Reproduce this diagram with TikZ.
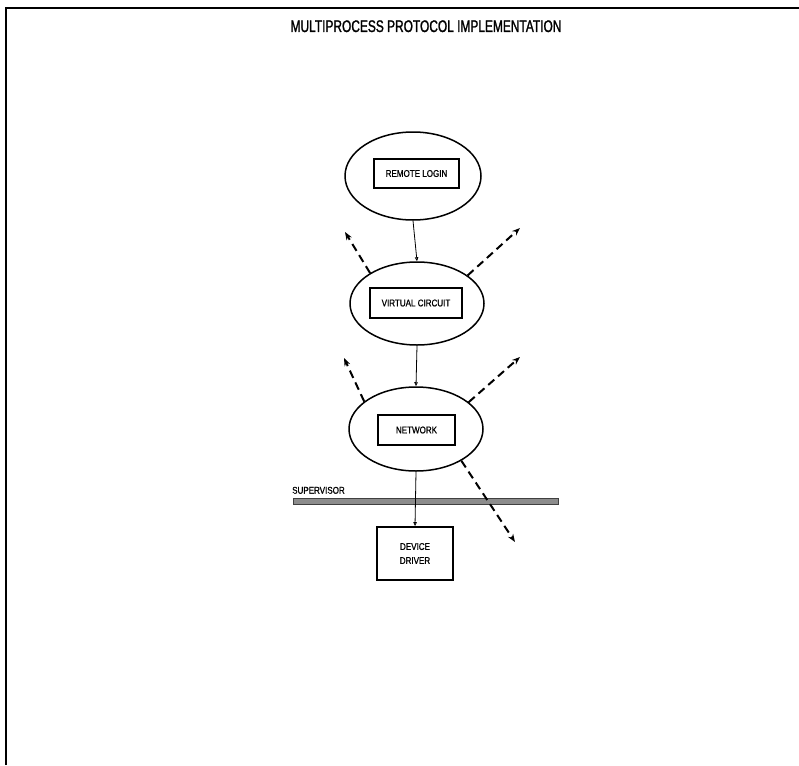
\documentclass[tikz,border=0pt]{standalone}
\usepackage{fontspec}
\usetikzlibrary{shapes.geometric,arrows.meta}
\newfontfamily\titlefont[FakeStretch=0.71,FakeBold=1.3]{Liberation Sans}
\newfontfamily\labelfont[FakeStretch=0.82,FakeBold=0.9]{Liberation Sans}
\tikzset{
  proc/.style={draw, ellipse, line width=1.5pt, minimum width=134pt, minimum height=84pt, inner sep=0pt},
  inbox/.style={draw, line width=1.9pt, inner sep=0pt, font=\labelfont\fontsize{9.8}{11}\selectfont, align=center},
  flow/.style={line width=0.8pt, -{Triangle[open,length=4pt,width=3.5pt]}},
  leak/.style={line width=2pt, dash pattern=on 8pt off 5pt, -{Stealth[length=8pt,width=6pt]}},
}
\begin{document}
\begin{tikzpicture}[x=1pt,y=-1pt]
\useasboundingbox (0,0) rectangle (799,765);
\fill[white] (0,0) rectangle (799,765);
% frame
\draw[line width=2.5pt] (6,765) -- (6,8) -- (799,8);
% title
\node[anchor=base, inner sep=0pt, font=\titlefont\fontsize{16.8}{18}\selectfont] (title) at (426,32) {MULTIPROCESS PROTOCOL IMPLEMENTATION};
% processes
\node[proc, minimum width=136pt, minimum height=88pt] (e1) at (413,176) {};
\node[proc, minimum height=83pt] (e2) at (417,303.5) {};
\node[proc] (e3) at (416,429) {};
\node[inbox, minimum width=85pt, minimum height=29pt] (r1) at (416.5,173.5) {REMOTE LOGIN};
\node[inbox, minimum width=92pt, minimum height=30pt] (r2) at (416,303) {VIRTUAL CIRCUIT};
\node[inbox, minimum width=77pt, minimum height=30pt] (r3) at (416.5,430) {NETWORK};
\node[inbox, minimum width=76pt, minimum height=53pt] (dd) at (415,553.5) {DEVICE\\[3pt]DRIVER};
% supervisor bar
\node[draw=black!75, fill=black!45, line width=0.8pt, minimum width=265pt, minimum height=6pt, inner sep=0pt] (bar) at (425.5,501) {};
\node[anchor=south west, inner sep=0pt, font=\labelfont\fontsize{9.8}{11}\selectfont] (sup) at (292,494) {SUPERVISOR};
% vertical flows
\draw[flow] (e1.south) -- (e2.north);
\draw[flow] (e2.south) -- (e3.north);
\draw[flow] (e3.south) -- (dd.north);
% dashed arrows
\coordinate (t1) at (345,232);
\coordinate (t2) at (520,228);
\coordinate (t3) at (344,358);
\coordinate (t4) at (520,357);
\coordinate (t5) at (515,542);
\draw[leak] (e2.147) -- (t1);
\draw[leak] (e2.29) -- (t2);
\draw[leak] (e3.152) -- (t3);
\draw[leak] (e3.27) -- (t4);
\draw[leak] (e3.-35) -- (t5);
\end{tikzpicture}
\end{document}
